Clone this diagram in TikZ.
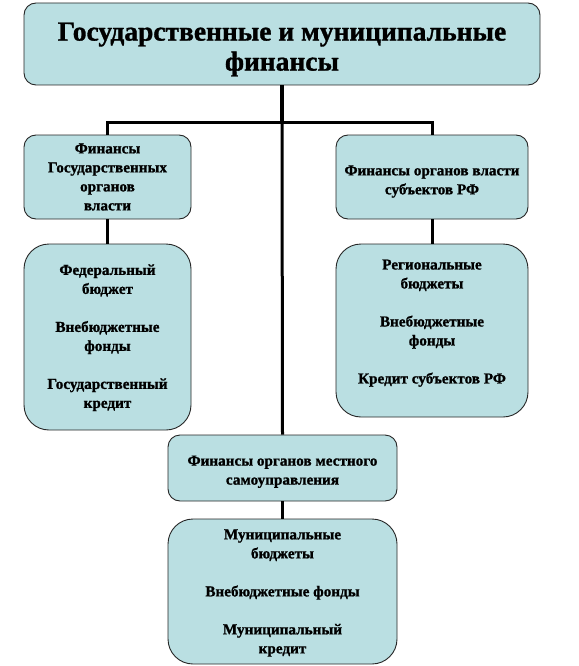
\documentclass[tikz,border=0pt]{standalone}
\usepackage{fontspec}
\setmainfont{Liberation Serif}[BoldFont={Liberation Serif Bold},BoldFeatures={FakeBold=1.2}]
\definecolor{boxfill}{RGB}{186,223,226}
\newcommand{\tstrut}[1]{\rule{0pt}{#1}}
\begin{document}
\begin{tikzpicture}[x=1pt,y=-1pt,
  box/.style={draw=black!85,line width=0.9pt,fill=boxfill,rounded corners=12pt,
    align=center,inner sep=0pt,font=\rmfamily\bfseries\fontsize{15.2}{19}\selectfont},
  bigbox/.style={box,rounded corners=25pt},
  conn/.style={line width=3pt,black}]
\useasboundingbox (0,0) rectangle (578,666);
\node[box,minimum width=516pt,minimum height=82pt,font=\rmfamily\bfseries\fontsize{27.5}{30}\selectfont] (top) at (282,44) {\tstrut{29pt}Государственные и муниципальные\\финансы};
\node[box,minimum width=167pt,minimum height=84pt] (l1) at (107.5,177) {Финансы\\Государственных\\органов\\власти};
\node[bigbox,minimum width=167pt,minimum height=186pt] (l2) at (107.5,337) {\tstrut{12pt}Федеральный\\бюджет\\[19pt]Внебюджетные\\фонды\\[19pt]Государственный\\кредит};
\node[box,minimum width=192pt,minimum height=84pt] (r1) at (432,177) {\tstrut{19pt}Финансы органов власти\\субъектов  РФ};
\node[bigbox,minimum width=192pt,minimum height=173pt] (r2) at (432,330.5) {Региональные\\бюджеты\\[19pt]Внебюджетные\\фонды\\[19pt]Кредит субъектов РФ\\[-1pt]\mbox{}};
\node[box,minimum width=229pt,minimum height=66pt] (m1) at (282.5,468) {\tstrut{17.5pt}Финансы органов местного\\самоуправления};
\node[bigbox,minimum width=229pt,minimum height=145pt] (m2) at (282.5,591.5) {\tstrut{13pt}Муниципальные\\бюджеты\\[19pt]Внебюджетные фонды\\[19pt]Муниципальный\\кредит};
\coordinate (j) at (282,123);
\draw[conn,line width=4pt] (top.south) -- (j);
\draw[conn] (l1.north) -- (l1.north |- j) -- (r1.north |- j) -- (r1.north);
\draw[conn] (j) -- (m1.north);
\draw[conn] (l1.south) -- (l2.north);
\draw[conn] (r1.south) -- (r2.north);
\draw[conn] (m1.south) -- (m2.north);
\end{tikzpicture}
\end{document}
